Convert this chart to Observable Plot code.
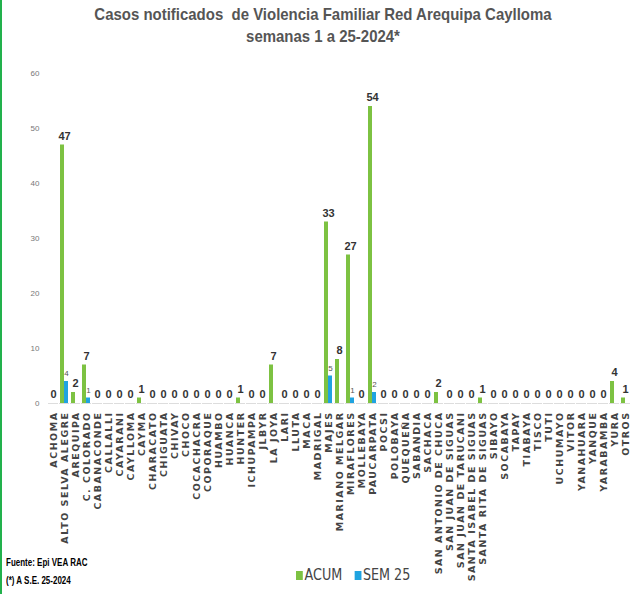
<!DOCTYPE html>
<html><head><meta charset="utf-8">
<script src="https://cdn.jsdelivr.net/npm/d3@7"></script>
<script src="https://cdn.jsdelivr.net/npm/@observablehq/plot@0.6"></script>
<style>
body{margin:0;background:#fff;font-family:"Liberation Sans",Arial,sans-serif;}
#wrap{position:relative;width:642px;height:594px;border-left:2px solid #22b14c;box-sizing:border-box;}
#title{position:absolute;top:4px;left:0;width:642px;text-align:center;font-family:"Liberation Sans Narrow","Liberation Sans",sans-serif;font-size:17px;font-weight:bold;line-height:22px;color:#555;transform:scaleX(0.88);}
#chart{position:absolute;top:55px;left:0;}
#chart g[aria-label="fx-axis tick label"] text{letter-spacing:1.5px;}
.src{position:absolute;left:4px;font-size:10px;font-weight:bold;transform:scaleX(0.8);transform-origin:left;}
#legend{position:absolute;top:566px;left:294px;font-size:15px;color:#444;font-family:"DejaVu Sans",sans-serif;transform:scaleX(0.85);transform-origin:left;}
.sw{display:inline-block;width:8px;height:9px;margin-right:2px;}
</style></head>
<body><div id="wrap">
<div id="title">Casos notificados&nbsp; de Violencia Familiar Red Arequipa Caylloma<br>semanas 1 a 25-2024*</div>
<div id="chart"></div>
<div class="src" style="top:557px">Fuente: Epi VEA RAC</div>
<div class="src" style="top:575px">(*) A S.E. 25-2024</div>
<div id="legend"><span class="sw" style="background:#7dc242"></span>ACUM&nbsp;&nbsp;&nbsp;<span class="sw" style="background:#1fa3e0"></span>SEM 25</div>
</div>
<script>
const districts = ["ACHOMA","ALTO SELVA ALEGRE","AREQUIPA","C. COLORADO","CABANACONDE","CALLALLI","CAYARANI","CAYLLOMA","CAYMA","CHARACATO","CHIGUATA","CHIVAY","CHOCO","COCACHACRA","COPORAQUE","HUAMBO","HUANCA","HUNTER","ICHUPAMPA","JLBYR","LA JOYA","LARI","LLUTA","MACA","MADRIGAL","MAJES","MARIANO MELGAR","MIRAFLORES","MOLLEBAYA","PAUCARPATA","POCSI","POLOBAYA","QUEQUEÑA","SABANDIA","SACHACA","SAN ANTONIO DE CHUCA","SAN JUAN DE SIGUAS","SAN JUAN DE TARUCANI","SANTA ISABEL DE SIGUAS","SANTA RITA DE SIGUAS","SIBAYO","SOCABAYA","TAPAY","TIABAYA","TISCO","TUTI","UCHUMAYO","VITOR","YANAHUARA","YANQUE","YARABAMBA","YURA","OTROS"];
const acum = [0,47,2,7,0,0,0,0,1,0,0,0,0,0,0,0,0,1,0,0,7,0,0,0,0,33,8,27,0,54,0,0,0,0,0,2,0,0,0,1,0,0,0,0,0,0,0,0,0,0,0,4,1];
const sem25 = [0,4,0,1,0,0,0,0,0,0,0,0,0,0,0,0,0,0,0,0,0,0,0,0,0,5,0,1,0,2,0,0,0,0,0,0,0,0,0,0,0,0,0,0,0,0,0,0,0,0,0,0,0];
const yTicks = [0,10,20,30,40,50,60];

const rows = [];
districts.forEach((d,i) => {
  rows.push({d, s:"ACUM", v:acum[i]});
  rows.push({d, s:"SEM 25", v:sem25[i]});
});

const chart = Plot.plot({
  width: 640, height: 539,
  marginLeft: 38, marginRight: 4, marginTop: 18, marginBottom: 191,
  style: {fontFamily: "Liberation Sans, sans-serif"},
  fx: {domain: districts, padding: 0.1, label: null, axis: null},
  x: {domain: ["ACUM","SEM 25"], axis: null, paddingInner: 0, paddingOuter: 0.2},
  y: {domain: [0,60], ticks: yTicks, label: null, tickSize: 0, grid: false},
  color: {domain: ["ACUM","SEM 25"], range: ["#7dc242","#1fa3e0"]},
  marks: [
    Plot.axisY({ticks: yTicks, tickSize: 0, fontSize: 8, fill: "#777", label: null}),
    Plot.axisFx({anchor: "bottom", domain: districts, tickRotate: -90, tickSize: 0, tickPadding: 8,
      fontSize: 9.5, fontWeight: "bold", fill: "#444", label: null, fontFamily: "DejaVu Sans, sans-serif"}),
    Plot.ruleY([0], {stroke: "#ddd"}),
    Plot.barY(rows, {fx: "d", x: "s", y: "v", fill: "s"}),
    Plot.text(rows.filter(r => r.s === "ACUM"), {fx: "d", x: "s", y: "v", text: d => String(d.v),
      dy: -9, dx: 2, fontWeight: "bold", fontSize: 11, fill: "#333"}),
    Plot.text(rows.filter(r => r.s === "SEM 25" && r.v > 0), {fx: "d", x: "s", y: "v", text: d => String(d.v),
      dy: -8, fontSize: 8, fill: "#555"})
  ]
});
document.getElementById("chart").append(chart);
</script>
</body></html>
